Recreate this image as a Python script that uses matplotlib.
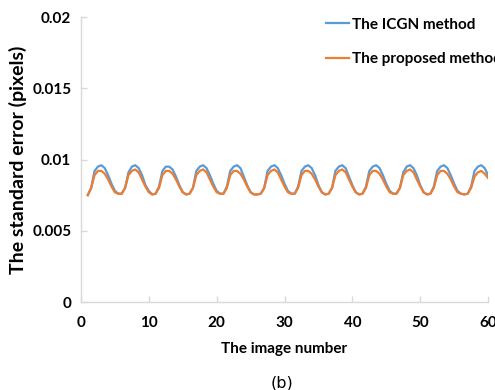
import numpy as np
import matplotlib.pyplot as plt

# standard error per image, sampled every half image number
image_no = np.arange(1, 60.5, 0.5)

icgn_err = [
    0.0075, 0.0080, 0.0092, 0.0095, 0.0096, 0.0094, 0.0089, 0.0083, 0.0078, 0.00760,
    0.0076, 0.0080, 0.0091, 0.0095, 0.0096, 0.0094, 0.0089, 0.0082, 0.0078, 0.00755,
    0.0076, 0.0081, 0.0092, 0.0095, 0.0095, 0.0093, 0.0088, 0.0082, 0.0077, 0.00755,
    0.0076, 0.0080, 0.0092, 0.0095, 0.0096, 0.0094, 0.0089, 0.0083, 0.0078, 0.00760,
    0.0076, 0.0081, 0.0092, 0.0095, 0.0096, 0.0094, 0.0088, 0.0082, 0.0077, 0.00755,
    0.00755, 0.0076, 0.0080, 0.0092, 0.0095, 0.0096, 0.0094, 0.0089, 0.0083, 0.0078, 0.00760,
    0.0076, 0.0081, 0.0092, 0.0095, 0.0096, 0.0094, 0.0089, 0.0082, 0.0077, 0.00755,
    0.0076, 0.0080, 0.0092, 0.0095, 0.0096, 0.0094, 0.0088, 0.0082, 0.0077, 0.00755,
    0.0076, 0.0081, 0.0092, 0.0095, 0.0096, 0.0094, 0.0089, 0.0083, 0.0078, 0.00760,
    0.0076, 0.0080, 0.0091, 0.0095, 0.0096, 0.0094, 0.0089, 0.0082, 0.0077, 0.00755,
    0.0076, 0.0081, 0.0092, 0.0095, 0.0096, 0.0094, 0.0089, 0.0083, 0.0078, 0.00760,
    0.00755,
    0.0076, 0.0081, 0.0092, 0.0095, 0.0096, 0.0094, 0.0089,
]

proposed_err = [
    0.0075, 0.0080, 0.0089, 0.0092, 0.0092, 0.0090, 0.0086, 0.0081, 0.0077, 0.00760,
    0.0076, 0.0080, 0.0089, 0.0092, 0.0093, 0.0091, 0.0086, 0.0081, 0.0077, 0.00755,
    0.0076, 0.0080, 0.0089, 0.0092, 0.0092, 0.0090, 0.0086, 0.0081, 0.0077, 0.00755,
    0.0076, 0.0080, 0.0089, 0.0092, 0.0093, 0.0091, 0.0086, 0.0081, 0.0077, 0.00760,
    0.0076, 0.0080, 0.0089, 0.0092, 0.0092, 0.0090, 0.0086, 0.0081, 0.0077, 0.00755,
    0.00755, 0.0076, 0.0080, 0.0089, 0.0092, 0.0093, 0.0091, 0.0086, 0.0081, 0.0077, 0.00760,
    0.0076, 0.0080, 0.0089, 0.0092, 0.0092, 0.0090, 0.0086, 0.0081, 0.0077, 0.00755,
    0.0076, 0.0080, 0.0089, 0.0092, 0.0093, 0.0091, 0.0086, 0.0081, 0.0077, 0.00755,
    0.0076, 0.0080, 0.0089, 0.0092, 0.0092, 0.0090, 0.0086, 0.0081, 0.0077, 0.00760,
    0.0076, 0.0080, 0.0089, 0.0092, 0.0093, 0.0091, 0.0086, 0.0081, 0.0077, 0.00755,
    0.0076, 0.0080, 0.0089, 0.0092, 0.0092, 0.0090, 0.0086, 0.0081, 0.0077, 0.00760,
    0.00755,
    0.0076, 0.0080, 0.0088, 0.0091, 0.0092, 0.0090, 0.0087,
]

x_ticks = [0, 10, 20, 30, 40, 50, 60]
y_ticks = [0, 0.005, 0.01, 0.015, 0.02]
y_labels = ['0', '0.005', '0.01', '0.015', '0.02']

plt.rcParams['font.family'] = ['Lato', 'DejaVu Sans']

fig = plt.figure(figsize=(4.95, 3.9), dpi=100)
ax = fig.add_axes([0.1636, 0.2256, 0.8224, 0.7308])

ax.plot(image_no, icgn_err, color='#5b9bd5', lw=1.6, label='The ICGN method')
ax.plot(image_no, proposed_err, color='#ed7d31', lw=1.6, label='The proposed method')

ax.set_xlim(0, 60)
ax.set_ylim(0, 0.02)
ax.set_xticks(x_ticks)
ax.set_yticks(y_ticks)
ax.set_yticklabels(y_labels)

for side in ['top', 'right']:
    ax.spines[side].set_visible(False)
for side in ['left', 'bottom']:
    ax.spines[side].set_color('#d9d9d9')
    ax.spines[side].set_linewidth(1.0)

ax.tick_params(direction='in', length=4, color='#d9d9d9', width=1.0, labelsize=11)
ax.tick_params(axis='x', pad=10)
ax.tick_params(axis='y', pad=7)
for lab in ax.get_xticklabels() + ax.get_yticklabels():
    lab.set_fontweight('bold')

ax.set_xlabel('The image number', fontsize=11, fontweight='bold', labelpad=9)
ax.set_ylabel('The standard error (pixels)', fontsize=14, fontweight='bold', labelpad=4)

ax.legend(loc='upper left', bbox_to_anchor=(0.63, 0.99), bbox_transform=fig.transFigure,
          frameon=False, handlelength=1.5, handletextpad=0.25, labelspacing=1.35,
          prop={'weight': 'bold', 'size': 11})

fig.text(0.57, 0.0, '(b)', ha='center', va='bottom', fontsize=11.5,
         family='DejaVu Sans')

fig.savefig('out.png', dpi=100)
